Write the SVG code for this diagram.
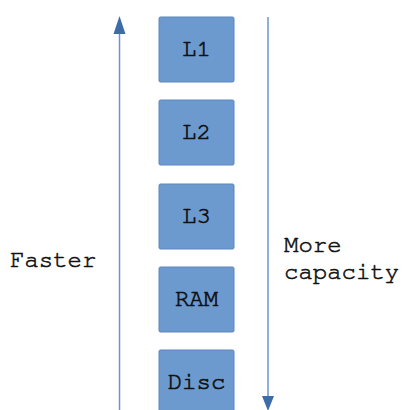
<svg xmlns="http://www.w3.org/2000/svg" width="406" height="410" viewBox="0 0 406 410">
<style>
.box{fill:#6c9ace;stroke:#5a86bd;stroke-width:1}
.lbl{font-family:"Nimbus Mono PS","Nimbus Mono L","FreeMono","Courier New",Courier,"Liberation Mono",monospace;font-size:24px;fill:#111;stroke:#111;stroke-width:0.7;text-anchor:middle}
.side{font-family:"Nimbus Mono PS","Nimbus Mono L","FreeMono","Courier New",Courier,"Liberation Mono",monospace;font-size:24px;fill:#111;stroke:#111;stroke-width:0.6}
.conn{stroke:#6f95c8;stroke-width:1.5;fill:none}
.head{fill:#3e6ca9}
</style>
<rect width="406" height="410" fill="#fff"/>
<g id="connectors">
<line class="conn" x1="119.5" y1="30" x2="119.5" y2="410"/>
<polygon class="head" points="119.5,16 113.5,34 125.5,34"/>
<line class="conn" x1="268" y1="17" x2="268" y2="398"/>
<polygon class="head" points="268,411 262,396 274,396"/>
</g>
<g id="L1"><rect class="box" x="159" y="17" width="75" height="65" rx="1.5"/><text class="lbl" x="196.5" y="56">L1</text></g>
<g id="L2"><rect class="box" x="159" y="100" width="75" height="65" rx="1.5"/><text class="lbl" x="196.5" y="139">L2</text></g>
<g id="L3"><rect class="box" x="159" y="184" width="75" height="65" rx="1.5"/><text class="lbl" x="196.5" y="223">L3</text></g>
<g id="RAM"><rect class="box" x="159" y="267" width="75" height="65" rx="1.5"/><text class="lbl" x="196.5" y="306">RAM</text></g>
<g id="Disc"><rect class="box" x="159" y="350" width="75" height="65" rx="1.5"/><text class="lbl" x="196.5" y="389">Disc</text></g>
<g id="faster"><text class="side" x="10" y="267">Faster</text></g>
<g id="capacity"><text class="side" x="284" y="252">More</text><text class="side" x="284" y="279">capacity</text></g>
</svg>
